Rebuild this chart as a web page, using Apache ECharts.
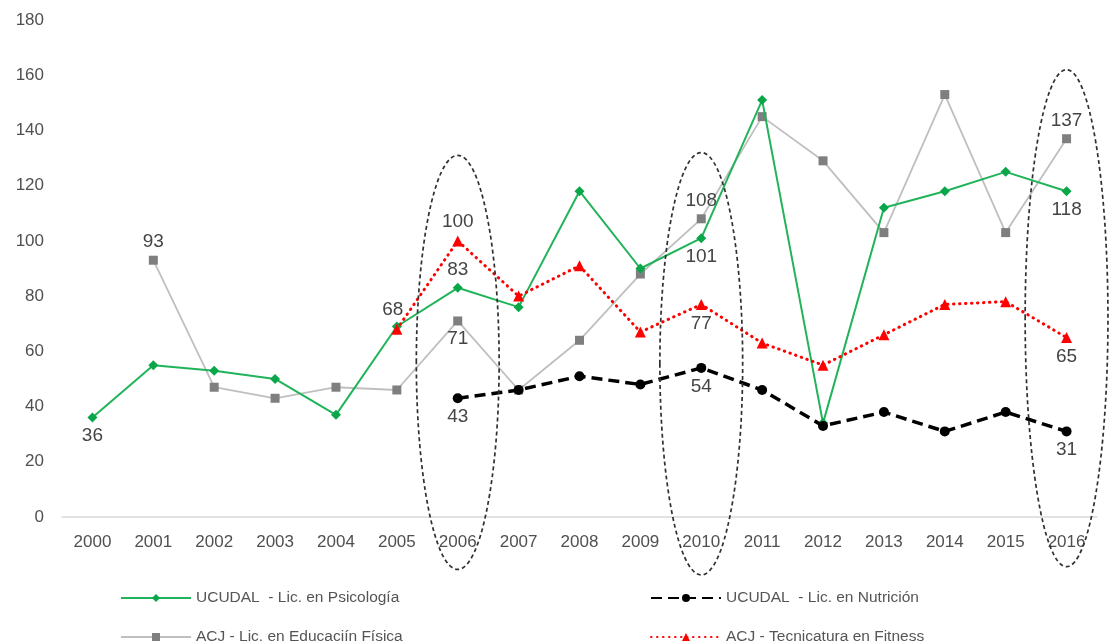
<!DOCTYPE html>
<html>
<head>
<meta charset="utf-8">
<script src="https://cdn.jsdelivr.net/npm/echarts@6/dist/echarts.min.js"></script>
<style>
html,body{margin:0;padding:0;background:#fff;}
#c{width:1119px;height:644px;}
</style>
</head>
<body>
<div id="c"></div>
<script>
// ---- data ----
const years = ['2000','2001','2002','2003','2004','2005','2006','2007','2008','2009','2010','2011','2012','2013','2014','2015','2016'];
const yTicks = [0,20,40,60,80,100,120,140,160,180];

const seriesNames = [
  'UCUDAL  - Lic. en Psicología',
  'UCUDAL  - Lic. en Nutrición',
  'ACJ - Lic. en Educaciín Física',
  'ACJ - Tecnicatura en Fitness'
];
const psicologia = [36, 55, 53, 50, 37, 69, 83, 76, 118, 90, 101, 151, 34, 112, 118, 125, 118];
const nutricion  = [null, null, null, null, null, null, 43, 46, 51, 48, 54, 46, 33, 38, 31, 38, 31];
const educFisica = [null, 93, 47, 43, 47, 46, 71, 46, 64, 88, 108, 145, 129, 103, 153, 103, 137];
const fitness    = [null, null, null, null, null, 68, 100, 80, 91, 67, 77, 63, 55, 66, 77, 78, 65];

// which points carry a value label (index -> position)
const psicologiaLabels = {0:'bottom', 6:'top', 10:'bottom', 16:'bottom'};
const nutricionLabels  = {6:'bottom', 10:'bottom', 16:'bottom'};
const educFisicaLabels = {1:'top', 6:'bottom', 10:'top', 16:'top'};
const fitnessLabels    = {5:'top', 6:'top', 10:'bottom', 16:'bottom'};

// highlighted years (dashed ellipses): year, top value, bottom value
const highlightYears = [
  {year:'2006', top:131, bottom:-19},
  {year:'2010', top:132, bottom:-21},
  {year:'2016', top:162, bottom:-18}
];

// ---- chart ----
const FONT = '"Liberation Sans", Arial, sans-serif';
const labelStyle = {fontSize:19, color:'#454545', fontFamily:FONT, distance:4};

function withLabels(values, labels, extra) {
  return values.map((v, i) => {
    if (labels[i] === undefined || v === null) return v;
    const lab = Object.assign({show:true, position:labels[i]}, labelStyle);
    if (extra && extra[i]) Object.assign(lab, extra[i]);
    return {value:v, label:lab};
  });
}

const chart = echarts.init(document.getElementById('c'), null, {renderer:'canvas'});

const legendText = {color:'#555555', fontSize:15.5, fontFamily:FONT};
const option = {
  backgroundColor:'#ffffff',
  animation:false,
  grid:{left:62, right:22, top:20, bottom:127},
  xAxis:{
    type:'category',
    data:years,
    boundaryGap:true,
    axisLine:{lineStyle:{color:'#d9d9d9', width:1.5}},
    axisTick:{show:false},
    axisLabel:{color:'#505050', fontSize:17, fontFamily:FONT, margin:17}
  },
  yAxis:{
    type:'value',
    min:yTicks[0], max:yTicks[yTicks.length-1], interval:20,
    splitLine:{show:false},
    axisLine:{show:false},
    axisTick:{show:false},
    axisLabel:{color:'#505050', fontSize:17, fontFamily:FONT, margin:18}
  },
  legend:[
    {data:[seriesNames[0]], left:115, top:585, itemWidth:70, itemHeight:10, itemGap:0, textStyle:legendText},
    {data:[seriesNames[1]], left:645, top:585, itemWidth:70, itemHeight:10, itemGap:0, textStyle:legendText},
    {data:[seriesNames[2]], left:115, top:624, itemWidth:70, itemHeight:10, itemGap:0, textStyle:legendText},
    {data:[seriesNames[3]], left:645, top:624, itemWidth:70, itemHeight:10, itemGap:0, textStyle:legendText}
  ],
  series:[
    {
      name:seriesNames[2], type:'line', data:withLabels(educFisica, educFisicaLabels),
      symbol:'rect', symbolSize:9, connectNulls:false,
      lineStyle:{color:'#bfbfbf', width:1.8},
      itemStyle:{color:'#7f7f7f'}, z:2
    },
    {
      name:seriesNames[0], type:'line', data:withLabels(psicologia, psicologiaLabels),
      symbol:'diamond', symbolSize:10,
      lineStyle:{color:'#21b35a', width:2},
      itemStyle:{color:'#0aa64a'}, z:3
    },
    {
      name:seriesNames[1], type:'line', data:withLabels(nutricion, nutricionLabels),
      symbol:'circle', symbolSize:10,
      lineStyle:{color:'#000000', width:3.5, type:[11,6]},
      itemStyle:{color:'#000000'}, z:4
    },
    {
      name:seriesNames[3], type:'line', data:withLabels(fitness, fitnessLabels, {5:{offset:[-4,0]}}),
      symbol:'triangle', symbolSize:11,
      lineStyle:{color:'#ff0000', width:3, type:[0.5,5.5], cap:'round'},
      itemStyle:{color:'#ff0000'}, z:5
    }
  ]
};
chart.setOption(option);

// dashed ellipses placed through the chart's own axes
function drawEllipses(){
  const band = chart.convertToPixel({xAxisIndex:0}, years[1]) - chart.convertToPixel({xAxisIndex:0}, years[0]);
  const elements = highlightYears.map(h => {
    const cx = chart.convertToPixel({xAxisIndex:0}, h.year);
    const yTop = chart.convertToPixel({yAxisIndex:0}, h.top);
    const yBot = chart.convertToPixel({yAxisIndex:0}, h.bottom);
    return {
      type:'ellipse', silent:true, z:10,
      shape:{cx:cx, cy:(yTop+yBot)/2, rx:band*0.68, ry:(yBot-yTop)/2},
      style:{fill:null, stroke:'#303030', lineWidth:1.7, lineDash:[4,3]}
    };
  });
  chart.setOption({graphic:{elements:elements}});
}
drawEllipses();
</script>
</body>
</html>
